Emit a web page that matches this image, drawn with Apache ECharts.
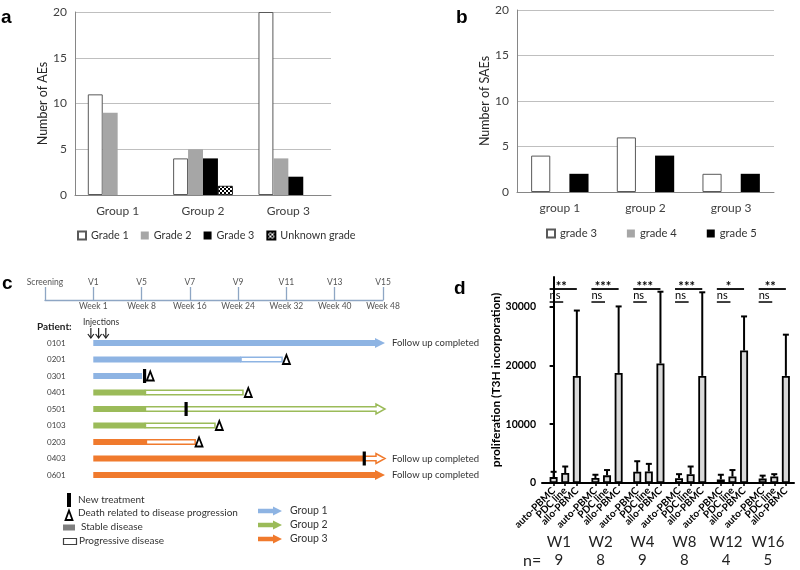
<!DOCTYPE html>
<html><head><meta charset="utf-8">
<script src="https://cdn.jsdelivr.net/npm/echarts@6/dist/echarts.min.js"></script>
<style>html,body{margin:0;padding:0;background:#fff}#c{width:800px;height:570px}</style>
</head><body><div id="c"></div>
<script>
// ---------- Panel a ----------
const categoriesA = ['Group 1', 'Group 2', 'Group 3'];
const aeGrade1 = [11, 4, 20];
const aeGrade2 = [9, 5, 4];
const aeGrade3 = [0, 4, 2];
const aeUnknown = [0, 1, 0];
// ---------- Panel b ----------
const categoriesB = ['group 1', 'group 2', 'group 3'];
const saeGrade3 = [4, 6, 2];
const saeGrade4 = [0, 0, 0];
const saeGrade5 = [2, 4, 2];
// ---------- Panel c ----------
const visitLabels = ['Screening', 'V1', 'V5', 'V7', 'V9', 'V11', 'V13', 'V15'];
const weekLabels = ['', 'Week 1', 'Week 8', 'Week 16', 'Week 24', 'Week 32', 'Week 40', 'Week 48'];
const patients = ['0101', '0201', '0301', '0401', '0501', '0103', '0203', '0403', '0601'];
const patientGroup = [1, 1, 1, 2, 2, 2, 3, 3, 3];
const stableEnd = [6, 3.06, 1.01, 1.08, 1.08, 1.08, 1.1, 5.61, 6];
const progEnd = [null, 3.91, null, 3.1, 6, 2.52, 2.11, 6, null];
const newTreatment = [null, null, 1.06, null, 1.92, null, null, 5.61, null];
const deathAt = [null, 4.0, 1.18, 3.21, null, 2.61, 2.19, null, null];
const arrowEnd = [true, false, false, false, true, false, false, true, true];
const followUpCompleted = [true, false, false, false, false, false, false, true, true];
const injections = [-0.05, 0.11, 0.26];
const groupNames = ['Group 1', 'Group 2', 'Group 3'];
// ---------- Panel d ----------
const weeks = ['W1', 'W2', 'W4', 'W8', 'W12', 'W16'];
const nPatients = [9, 8, 9, 8, 4, 5];
const conditions = ['auto-PBMC', 'PDC line', 'allo-PBMC'];
const autoMean = [1000, 850, 1900, 800, 600, 750];
const autoSD = [900, 550, 1800, 700, 800, 500];
const pdcMean = [1700, 1300, 1950, 1500, 1100, 1100];
const pdcSD = [1100, 900, 1300, 1300, 1100, 400];
const alloMean = [18200, 18700, 20300, 18200, 22500, 18200];
const alloSD = [11100, 11300, 12200, 14200, 5800, 7000];
const sigAllo = ['**', '***', '***', '***', '*', '**'];
const sigPdc = ['ns', 'ns', 'ns', 'ns', 'ns', 'ns'];
const dTicks = [0, 10000, 20000, 30000];

const FONT = 'Lato, "Open Sans", sans-serif';
const groupColors = ['#8eb4e3', '#9bbb59', '#f07a2d'];

// checker pattern for unknown grade
const pat = document.createElement('canvas'); pat.width = 4; pat.height = 4;
const pc = pat.getContext('2d');
pc.fillStyle = '#fff'; pc.fillRect(0, 0, 4, 4);
pc.fillStyle = '#000'; pc.fillRect(0, 0, 2, 2); pc.fillRect(2, 2, 2, 2);
const checker = { image: pat, repeat: 'repeat' };

// panel d positions (value-axis units)
const GROUP_STEP = 3.6;
const barXs = [], barMeans = [], barSDs = [];
const condXs = [[], [], []];
weeks.forEach((w, g) => {
  const m = [autoMean[g], pdcMean[g], alloMean[g]];
  const s = [autoSD[g], pdcSD[g], alloSD[g]];
  for (let k = 0; k < 3; k++) {
    const x = +(g * GROUP_STEP + k).toFixed(2);
    barXs.push(x); condXs[k].push(x);
    barMeans.push(m[k]); barSDs.push(s[k]);
  }
});
const groupCenters = weeks.map((w, g) => +(g * GROUP_STEP + 0.45).toFixed(2));
const weekAt = {}, nAt = {};
groupCenters.forEach((x, g) => { weekAt[x.toFixed(2)] = weeks[g]; nAt[x.toFixed(2)] = String(nPatients[g]); });

function arrowPoly(xs, xe, y, half, headHalf, headLen) {
  return [[xs, y - half], [xe - headLen, y - half], [xe - headLen, y - headHalf], [xe, y],
          [xe - headLen, y + headHalf], [xe - headLen, y + half], [xs, y + half]];
}

function renderTimeline(params, api) {
  const i = params.dataIndex;
  const col = groupColors[patientGroup[i] - 1];
  const p0 = api.coord([0, i]);
  const y = p0[1], x0 = p0[0];
  const xs = api.coord([stableEnd[i], i])[0];
  const ch = [];
  const H = 3;
  const hasProg = progEnd[i] != null;
  if (!hasProg && arrowEnd[i]) {
    ch.push({ type: 'polygon', shape: { points: arrowPoly(x0, xs + 2, y, H, 5, 10) }, style: { fill: col } });
  } else {
    ch.push({ type: 'rect', shape: { x: x0, y: y - H, width: xs - x0, height: 2 * H }, style: { fill: col } });
  }
  if (hasProg) {
    const xp = api.coord([progEnd[i], i])[0];
    if (arrowEnd[i]) {
      ch.push({ type: 'polygon', shape: { points: arrowPoly(xs, xp + 2, y, H - 0.7, 5, 9) }, style: { fill: '#fff', stroke: col, lineWidth: 1.5 } });
    } else {
      ch.push({ type: 'rect', shape: { x: xs, y: y - H + 0.7, width: xp - xs, height: 2 * H - 1.4 }, style: { fill: '#fff', stroke: col, lineWidth: 1.5 } });
    }
  }
  if (newTreatment[i] != null) {
    const xn = api.coord([newTreatment[i], i])[0];
    ch.push({ type: 'rect', shape: { x: xn - 1.5, y: y - 7, width: 3.2, height: 14 }, style: { fill: '#000' } });
  }
  if (deathAt[i] != null) {
    const xd = api.coord([deathAt[i], i])[0];
    ch.push({ type: 'polygon', shape: { points: [[xd - 3.5, y + 4.5], [xd + 3.5, y + 4.5], [xd, y - 4.5]] }, style: { fill: '#fff', stroke: '#000', lineWidth: 1.8 } });
  }
  if (followUpCompleted[i]) {
    const xe = api.coord([6, i])[0];
    ch.push({ type: 'text', style: { x: xe + 9, y: y, text: 'Follow up completed', fontSize: 9.5, fontFamily: FONT, fill: '#333', verticalAlign: 'middle' } });
  }
  return { type: 'group', children: ch };
}

function renderInjection(params, api) {
  const p = api.coord([api.value(0), 0]);
  const x = p[0], yb = p[1] - 5, yt = p[1] - 15;
  return { type: 'group', children: [
    { type: 'line', shape: { x1: x, y1: yt, x2: x, y2: yb }, style: { stroke: '#222', lineWidth: 1.2 } },
    { type: 'polyline', shape: { points: [[x - 3, yb - 4], [x, yb], [x + 3, yb - 4]] }, style: { stroke: '#222', lineWidth: 1.2, fill: null } }
  ] };
}

function renderErr(params, api) {
  const b = api.coord([api.value(0), api.value(1)]);
  const t = api.coord([api.value(0), api.value(2)]);
  return { type: 'group', children: [
    { type: 'line', shape: { x1: b[0], y1: b[1], x2: t[0], y2: t[1] }, style: { stroke: '#000', lineWidth: 2 } },
    { type: 'line', shape: { x1: t[0] - 3, y1: t[1], x2: t[0] + 3, y2: t[1] }, style: { stroke: '#000', lineWidth: 2 } }
  ] };
}

function renderSig(params, api) {
  const g = params.dataIndex;
  const base = g * GROUP_STEP;
  const y1 = api.coord([base, 32960])[1];
  const y2 = api.coord([base, 30750])[1];
  const xa = api.coord([base, 0])[0] - 4;
  const xp = api.coord([base + 1, 0])[0] - 2;
  const xl = api.coord([base + 2, 0])[0];
  return { type: 'group', children: [
    { type: 'line', shape: { x1: xa, y1: y1, x2: xl, y2: y1 }, style: { stroke: '#000', lineWidth: 1.8 } },
    { type: 'text', style: { x: (xa + xl) / 2 - 2, y: y1 + 4, text: sigAllo[g], fontSize: 13, fontWeight: 'bold', fontFamily: FONT, fill: '#000', align: 'center', verticalAlign: 'bottom' } },
    { type: 'line', shape: { x1: xa, y1: y2, x2: xp, y2: y2 }, style: { stroke: '#000', lineWidth: 1.5 } },
    { type: 'text', style: { x: xa, y: y2 - 1, text: sigPdc[g], fontSize: 11, fontFamily: FONT, fill: '#000', align: 'left', verticalAlign: 'bottom' } }
  ] };
}

const legendC = [];
function gtext(x, y, t, size, extra) {
  return Object.assign({ type: 'text', x: x, y: y, style: { text: t, fontSize: size, fontFamily: FONT, fill: '#333', verticalAlign: 'middle' } }, extra || {});
}
legendC.push({ type: 'rect', shape: { x: 67, y: 493, width: 4, height: 14 }, style: { fill: '#000' } });
legendC.push(gtext(78, 500, 'New treatment', 10));
legendC.push({ type: 'polygon', shape: { points: [[65.5, 520], [72.5, 520], [69, 510.5]] }, style: { fill: '#fff', stroke: '#000', lineWidth: 1.8 } });
legendC.push(gtext(78, 513, 'Death related to disease progression', 10));
legendC.push({ type: 'rect', shape: { x: 63, y: 524.5, width: 12, height: 6 }, style: { fill: '#7f7f7f' } });
legendC.push(gtext(81, 527, 'Stable disease', 10));
legendC.push({ type: 'rect', shape: { x: 63.5, y: 538.5, width: 13, height: 6 }, style: { fill: '#fff', stroke: '#404040', lineWidth: 1.2 } });
legendC.push(gtext(79, 541, 'Progressive disease', 10));
groupNames.forEach((n, k) => {
  const y = 511 + k * 14;
  legendC.push({ type: 'polygon', shape: { points: arrowPoly(258, 282, y, 2.2, 4.5, 9) }, style: { fill: groupColors[k] } });
  legendC.push(gtext(290, y, n, 10.5));
});
legendC.push(gtext(37, 327, 'Patient:', 10, { style: { text: 'Patient:', fontSize: 10, fontWeight: 'bold', fontFamily: FONT, fill: '#222', verticalAlign: 'middle' } }));
legendC.push(gtext(83, 322, 'Injections', 8.5));
legendC.push(gtext(523, 561, 'n=', 16, { style: { text: 'n=', fontSize: 16, fontFamily: FONT, fill: '#222', verticalAlign: 'middle' } }));
const letters = [['a', 1, 18], ['b', 456, 18], ['c', 2, 284], ['d', 454, 289]];
letters.forEach(l => legendC.push({ type: 'text', x: l[1], y: l[2], style: { text: l[0], fontSize: 19, fontWeight: 'bold', fontFamily: 'Liberation Sans, Arial, sans-serif', fill: '#000', verticalAlign: 'middle' } }));

const axGray = '#868686';
const txtGray = '#404040';
const unknownData = aeUnknown.map(v => v === 0 ? { value: v, itemStyle: { borderWidth: 0 } } : v);

function condAxis(k) {
  return { type: 'value', gridIndex: 3, min: -1, max: 20.7, position: 'bottom', offset: 0,
    axisLine: { show: false }, axisTick: { show: false }, splitLine: { show: false },
    axisLabel: { customValues: condXs[k], formatter: () => conditions[k], rotate: 45, fontSize: 10, fontWeight: 'bold',
      color: '#000', margin: 6, fontFamily: FONT, showMinLabel: true, showMaxLabel: true } };
}

const option = {
  animation: false,
  backgroundColor: '#fff',
  textStyle: { fontFamily: FONT },
  grid: [
    { left: 75, top: 12, width: 256, height: 183 },
    { left: 517, top: 10, width: 257, height: 182 },
    { left: 45, top: 334.75, width: 338, height: 148.5 },
    { left: 542, top: 277, width: 252, height: 206 }
  ],
  legend: [
    { left: 72, top: 225, itemWidth: 8, itemHeight: 8, itemGap: 12, icon: 'rect',
      data: ['Grade 1', 'Grade 2', 'Grade 3', 'Unknown grade'],
      textStyle: { fontSize: 10.8, color: '#333', fontFamily: FONT } },
    { left: 541, top: 223, itemWidth: 8, itemHeight: 8, itemGap: 30, icon: 'rect',
      data: ['grade 3', 'grade 4', 'grade 5'],
      textStyle: { fontSize: 11.2, color: '#333', fontFamily: FONT } }
  ],
  xAxis: [
    { type: 'category', gridIndex: 0, data: categoriesA,
      axisLine: { lineStyle: { color: axGray } }, axisTick: { length: 5, lineStyle: { color: axGray } },
      axisLabel: { fontSize: 12, color: txtGray, margin: 10, fontFamily: FONT } },
    { type: 'category', gridIndex: 1, data: categoriesB,
      axisLine: { lineStyle: { color: axGray } }, axisTick: { length: 5, lineStyle: { color: axGray } },
      axisLabel: { fontSize: 12, color: txtGray, margin: 10, fontFamily: FONT } },
    { type: 'value', gridIndex: 2, position: 'top', offset: 34.75, min: -1, max: 6, interval: 1,
      axisLine: { show: true, lineStyle: { color: '#8ea6c4', width: 1.3 } },
      axisTick: { show: true, length: 13, lineStyle: { color: '#8ea6c4', width: 1.3 } },
      axisLabel: { formatter: v => visitLabels[Math.round(v) + 1], fontSize: 8.5, color: '#555', margin: 13, fontFamily: FONT },
      splitLine: { show: false } },
    { type: 'value', gridIndex: 2, position: 'top', offset: 34.75, min: -1, max: 6, interval: 1,
      axisLine: { show: false }, axisTick: { show: false },
      axisLabel: { inside: true, formatter: v => weekLabels[Math.round(v) + 1], fontSize: 8.5, color: '#555', margin: 2, fontFamily: FONT },
      splitLine: { show: false } },
    { type: 'value', gridIndex: 3, min: -1, max: 20.7,
      axisLine: { lineStyle: { color: '#000', width: 2 } },
      axisTick: { show: true, customValues: barXs, length: 3, lineStyle: { color: '#000', width: 1.5 } },
      axisLabel: { show: false },
      splitLine: { show: false } },
    { type: 'value', gridIndex: 3, min: -1, max: 20.7, position: 'bottom', offset: 52,
      axisLine: { show: false }, axisTick: { show: false },
      axisLabel: { customValues: groupCenters, formatter: v => weekAt[v.toFixed(2)] || '', fontSize: 15, color: '#222', margin: 0, fontFamily: FONT, showMinLabel: true, showMaxLabel: true },
      splitLine: { show: false } },
    { type: 'value', gridIndex: 3, min: -1, max: 20.7, position: 'bottom', offset: 70,
      axisLine: { show: false }, axisTick: { show: false },
      axisLabel: { customValues: groupCenters, formatter: v => nAt[v.toFixed(2)] || '', fontSize: 15, color: '#222', margin: 0, fontFamily: FONT, showMinLabel: true, showMaxLabel: true },
      splitLine: { show: false } },
    condAxis(0), condAxis(1), condAxis(2)
  ],
  yAxis: [
    { type: 'value', gridIndex: 0, min: 0, max: 20, interval: 5,
      axisLine: { show: true, lineStyle: { color: axGray } }, axisTick: { show: false },
      splitLine: { lineStyle: { color: '#bfbfbf' } },
      axisLabel: { fontSize: 12, color: txtGray, margin: 8, fontFamily: FONT },
      name: 'Number of AEs', nameLocation: 'middle', nameGap: 25,
      nameTextStyle: { fontSize: 12.5, color: '#262626', fontFamily: FONT } },
    { type: 'value', gridIndex: 1, min: 0, max: 20, interval: 5,
      axisLine: { show: true, lineStyle: { color: axGray } }, axisTick: { show: false },
      splitLine: { lineStyle: { color: '#bfbfbf' } },
      axisLabel: { fontSize: 12, color: txtGray, margin: 8, fontFamily: FONT },
      name: 'Number of SAEs', nameLocation: 'middle', nameGap: 23,
      nameTextStyle: { fontSize: 12.5, color: '#262626', fontFamily: FONT } },
    { type: 'category', gridIndex: 2, data: patients, inverse: true,
      axisLine: { show: false }, axisTick: { show: false }, splitLine: { show: false },
      axisLabel: { inside: true, margin: 2, fontSize: 8, color: '#404040', fontFamily: FONT } },
    { type: 'value', gridIndex: 3, min: 0, max: 35000,
      axisLine: { show: true, lineStyle: { color: '#000', width: 2 } },
      axisTick: { show: true, length: 4, customValues: dTicks, lineStyle: { color: '#000', width: 2 } },
      axisLabel: { customValues: dTicks, formatter: v => String(v), fontSize: 10.5, fontWeight: 'bold', color: '#000', margin: 6, fontFamily: FONT },
      splitLine: { show: false },
      name: 'proliferation (T3H incorporation)', nameLocation: 'middle', nameGap: 37,
      nameTextStyle: { fontSize: 12, fontWeight: 'bold', color: '#000', fontFamily: FONT } }
  ],
  series: [
    { name: 'Grade 1', type: 'bar', xAxisIndex: 0, yAxisIndex: 0, data: aeGrade1, barGap: '0%', barCategoryGap: '30%',
      itemStyle: { color: '#fff', borderColor: '#595959', borderWidth: 1 } },
    { name: 'Grade 2', type: 'bar', xAxisIndex: 0, yAxisIndex: 0, data: aeGrade2, itemStyle: { color: '#a6a6a6' } },
    { name: 'Grade 3', type: 'bar', xAxisIndex: 0, yAxisIndex: 0, data: aeGrade3, itemStyle: { color: '#000' } },
    { name: 'Unknown grade', type: 'bar', xAxisIndex: 0, yAxisIndex: 0, data: unknownData,
      itemStyle: { color: checker, borderColor: '#000', borderWidth: 0.8 } },
    { name: 'grade 3', type: 'bar', xAxisIndex: 1, yAxisIndex: 1, data: saeGrade3, barGap: '0%', barCategoryGap: '33%',
      itemStyle: { color: '#fff', borderColor: '#595959', borderWidth: 1 } },
    { name: 'grade 4', type: 'bar', xAxisIndex: 1, yAxisIndex: 1, data: saeGrade4, itemStyle: { color: '#a6a6a6' } },
    { name: 'grade 5', type: 'bar', xAxisIndex: 1, yAxisIndex: 1, data: saeGrade5, itemStyle: { color: '#000' } },
    { type: 'custom', xAxisIndex: 2, yAxisIndex: 2, clip: false,
      data: patients.map((p, i) => [stableEnd[i], i]), renderItem: renderTimeline },
    { type: 'custom', xAxisIndex: 2, yAxisIndex: 2, clip: false,
      data: injections.map(v => [v, 0]), renderItem: renderInjection },
    { type: 'bar', xAxisIndex: 4, yAxisIndex: 3, barWidth: 8,
      data: barXs.map((x, j) => [x, barMeans[j]]),
      itemStyle: { color: '#d9d9d9', borderColor: '#000', borderWidth: 1.8 } },
    { type: 'custom', xAxisIndex: 4, yAxisIndex: 3, clip: false, z: 5,
      data: barXs.map((x, j) => [x, barMeans[j], barMeans[j] + barSDs[j]]), renderItem: renderErr },
    { type: 'custom', xAxisIndex: 4, yAxisIndex: 3, clip: false, z: 5,
      data: weeks.map((w, g) => [g * GROUP_STEP, 0]), renderItem: renderSig }
  ],
  graphic: legendC
};
const chart = echarts.init(document.getElementById('c'));
chart.setOption(option);
</script></body></html>
